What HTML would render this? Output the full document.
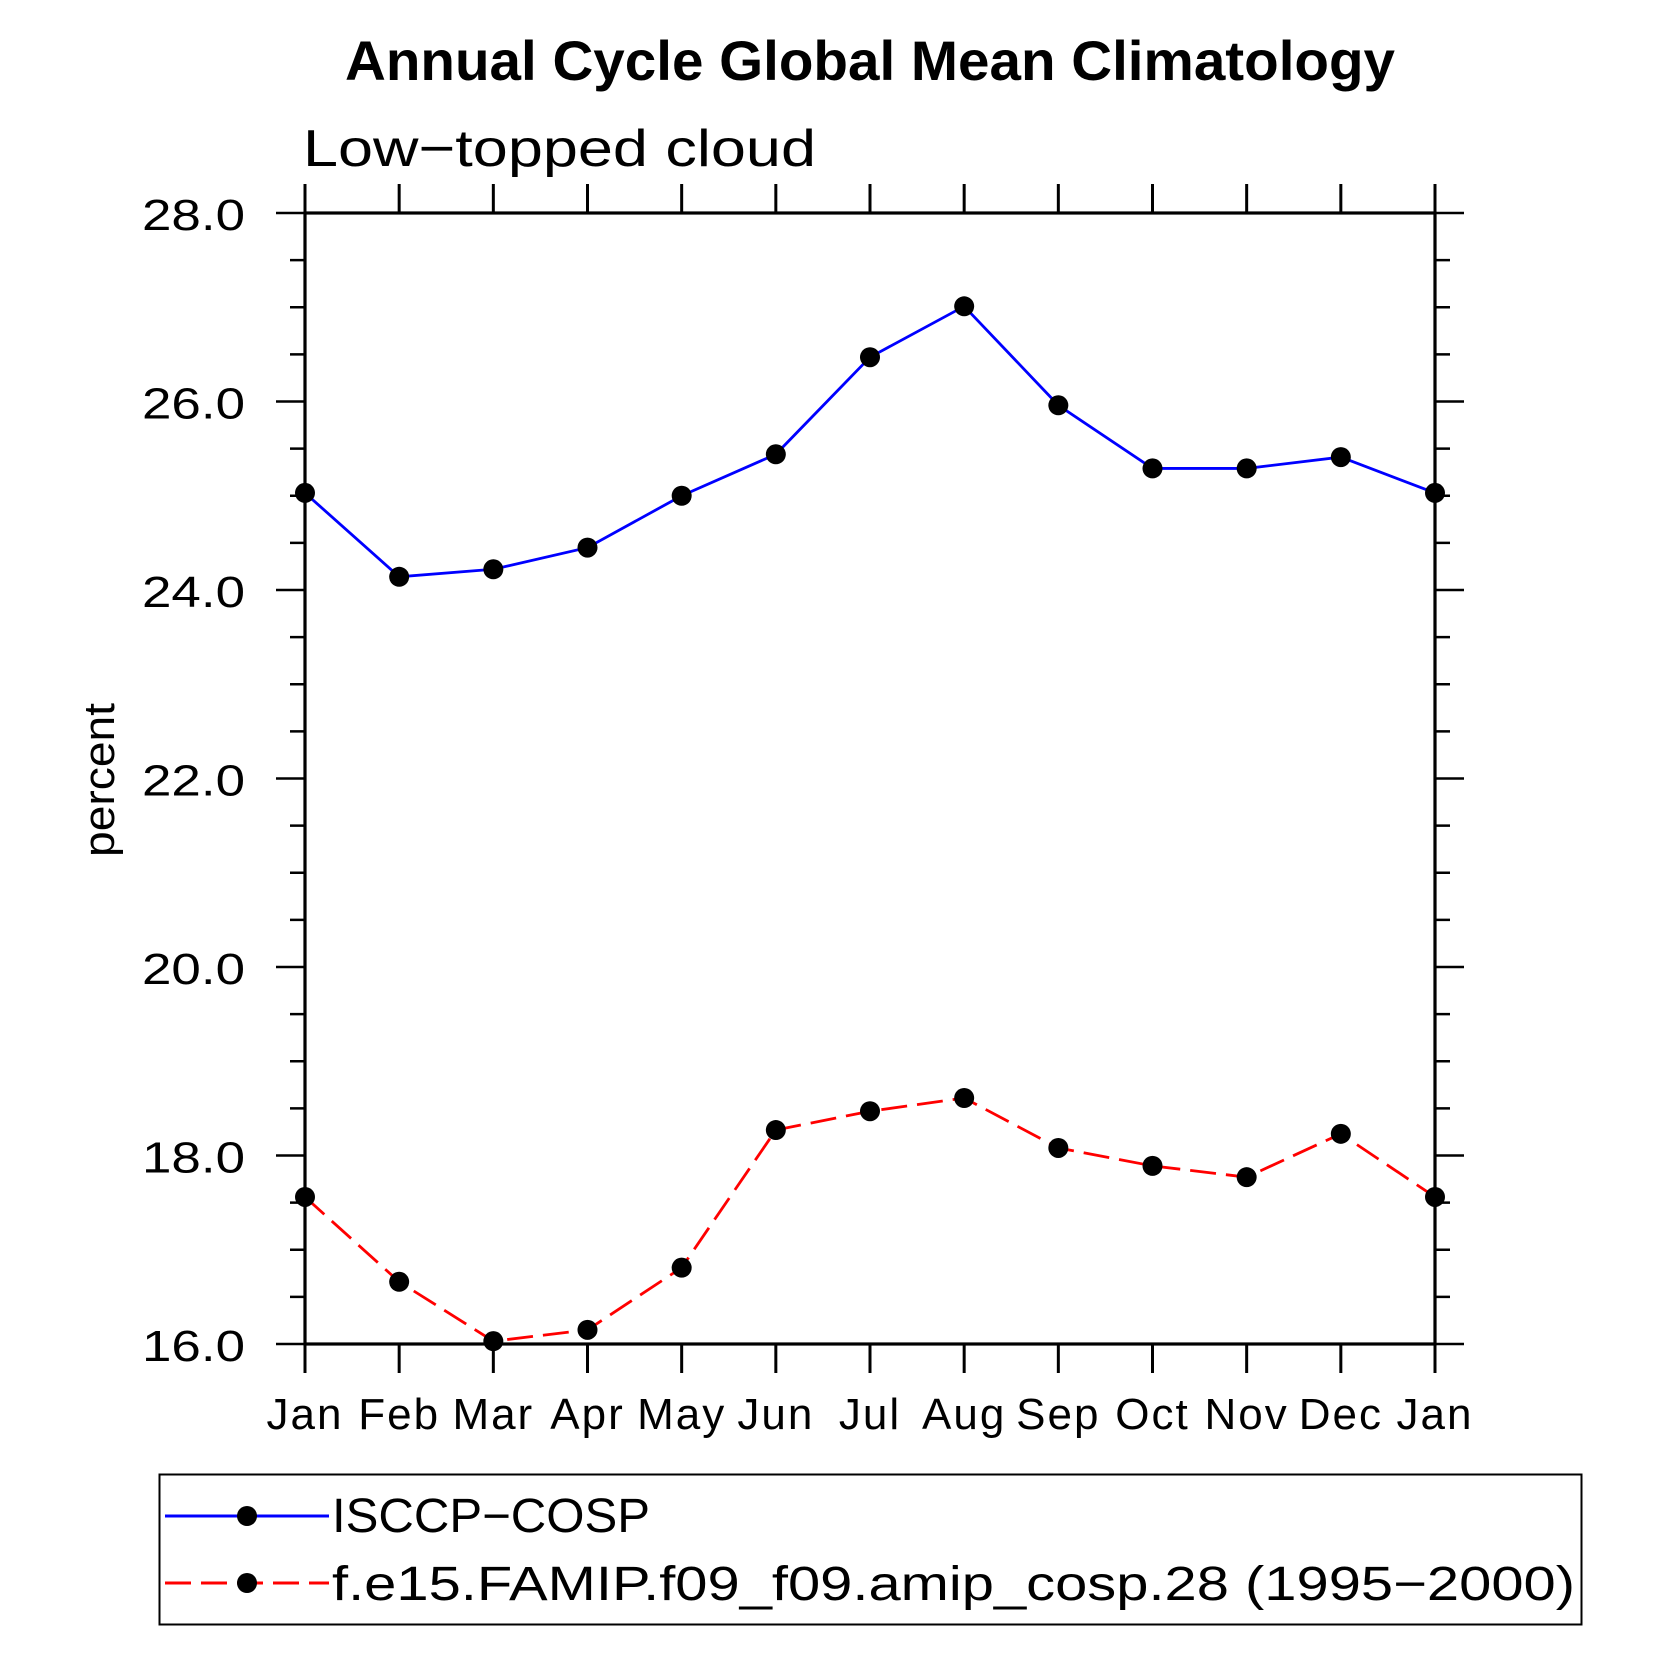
<!DOCTYPE html>
<html><head><meta charset="utf-8"><style>
html,body{margin:0;padding:0;background:#fff;}
svg{display:block;}
text{font-family:"Liberation Sans",sans-serif;}
.t{font-weight:300;fill:#000;}
</style></head><body>
<svg id="chart" width="1663" height="1663" viewBox="0 0 1663 1663" xmlns="http://www.w3.org/2000/svg">
<text x="870" y="80" text-anchor="middle" font-size="56" font-weight="bold" textLength="1050" lengthAdjust="spacingAndGlyphs">Annual Cycle Global Mean Climatology</text>
<text class="t" x="303" y="166" font-size="52" textLength="513" lengthAdjust="spacingAndGlyphs">Low−topped cloud</text>
<text class="t" x="0" y="0" font-size="44" text-anchor="middle" textLength="154" lengthAdjust="spacingAndGlyphs" transform="translate(114,780) rotate(-90)">percent</text>
<g id="axes"></g>
<g id="series"></g>
<g>
<rect x="159.5" y="1474.5" width="1422" height="150" fill="none" stroke="#000" stroke-width="2"/>
<g>
<line x1="165" y1="1516" x2="329" y2="1516" stroke="#0000ff" stroke-width="3"/>
<circle cx="247" cy="1516" r="10" fill="#000"/>
<text class="t" x="332" y="1532" font-size="48" textLength="318" lengthAdjust="spacingAndGlyphs">ISCCP−COSP</text>
</g>
<g>
<line x1="165" y1="1583" x2="329" y2="1583" stroke="#ff0000" stroke-width="3" stroke-dasharray="26,10"/>
<circle cx="247" cy="1583" r="10" fill="#000"/>
<text class="t" x="332" y="1600" font-size="48" textLength="1243" lengthAdjust="spacingAndGlyphs">f.e15.FAMIP.f09_f09.amip_cosp.28 (1995−2000)</text>
</g>
</g>
</svg>
<script>
const months = ["Jan","Feb","Mar","Apr","May","Jun","Jul","Aug","Sep","Oct","Nov","Dec","Jan"];
const isccpValues = [25.03,24.14,24.22,24.45,25.0,25.44,26.47,27.01,25.96,25.29,25.29,25.41,25.03];
const modelValues = [17.56,16.66,16.03,16.15,16.81,18.27,18.47,18.61,18.08,17.89,17.77,18.23,17.56];
const yTickLabels = ["16.0","18.0","20.0","22.0","24.0","26.0","28.0"];
const yMin = 16, yMax = 28;

const NS = "http://www.w3.org/2000/svg";
const L = 305, R = 1435, T = 213, B = 1344;
function xs(i){ return L + (R - L) * i / (months.length - 1); }
function ys(v){ return B - (B - T) * (v - yMin) / (yMax - yMin); }
function mk(tag, attrs, parent){
  const e = document.createElementNS(NS, tag);
  for (const k in attrs) e.setAttribute(k, attrs[k]);
  parent.appendChild(e);
  return e;
}
const axes = document.getElementById("axes");
const frame = mk("rect", {x:L, y:T, width:R-L, height:B-T, fill:"none", stroke:"#000", "stroke-width":3.2}, axes);


months.forEach((m, i) => {
  const x = xs(i);
  mk("line", {x1:x, y1:B, x2:x, y2:B+29, stroke:"#000", "stroke-width":3}, axes);
  mk("line", {x1:x, y1:T, x2:x, y2:T-29, stroke:"#000", "stroke-width":3}, axes);
  const t = mk("text", {x:x, y:1429, "font-size":44, "text-anchor":"middle", class:"t", "letter-spacing":"2"}, axes);
  t.textContent = m;
  
  
});
for (let v = yMin; v <= yMax + 1e-9; v += 0.5) {
  const y = ys(v);
  const major = Math.abs(v - Math.round(v / 2) * 2) < 1e-9;
  const len = major ? 29 : 15;
  mk("line", {x1:L-len, y1:y, x2:L, y2:y, stroke:"#000", "stroke-width":2.5}, axes);
  mk("line", {x1:R, y1:y, x2:R+len, y2:y, stroke:"#000", "stroke-width":2.5}, axes);
}
yTickLabels.forEach(lbl => {
  const t = mk("text", {x:245, y:ys(parseFloat(lbl)) + 17, "font-size":44, "text-anchor":"end", class:"t", textLength:103, lengthAdjust:"spacingAndGlyphs"}, axes);
  t.textContent = lbl;
  
  
});
const sg = document.getElementById("series");
function drawSeries(vals, color, dash, name){
  const pts = vals.map((v, i) => xs(i) + "," + ys(v)).join(" ");
  const pl = mk("polyline", {points:pts, fill:"none", stroke:color, "stroke-width":2.8}, sg);
  if (dash) pl.setAttribute("stroke-dasharray", dash);
  
  
  vals.forEach((v, i) => {
    const c = mk("circle", {cx:xs(i), cy:ys(v), r:10, fill:"#000"}, sg);
    
    
  });
}
drawSeries(isccpValues, "#0000ff", null, "isccp-cosp");
drawSeries(modelValues, "#ff0000", "26,10", "model");
</script>
</body></html>
